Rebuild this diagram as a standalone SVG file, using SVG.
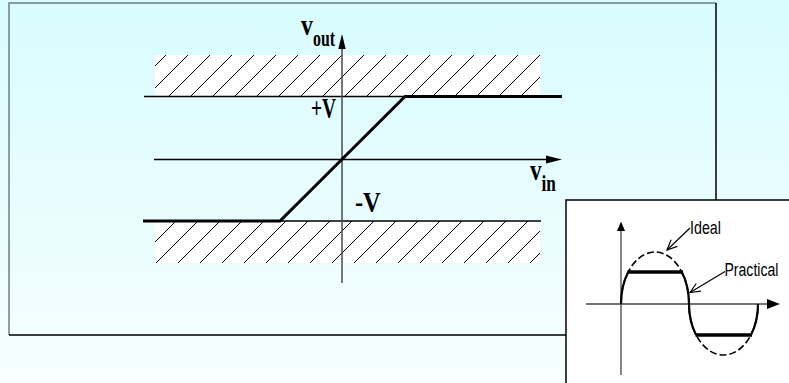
<svg xmlns="http://www.w3.org/2000/svg" width="789" height="383" viewBox="0 0 789 383">
  <defs>
    <linearGradient id="bg" x1="0" y1="0" x2="0" y2="1">
      <stop offset="0" stop-color="#d8fcff"/>
      <stop offset="1" stop-color="#f7feff"/>
    </linearGradient>
    <pattern id="hatch" patternUnits="userSpaceOnUse" x="1" y="0" width="22" height="22">
      <rect width="22" height="22" fill="#ffffff"/>
      <path d="M0,22 L22,0 M-2,2 L2,-2 M20,24 L24,20" stroke="#000" stroke-width="1"/>
    </pattern>
    <marker id="open" viewBox="-11 -6 13 12" refX="0" refY="0" markerWidth="13" markerHeight="12" orient="auto" markerUnits="userSpaceOnUse">
      <path d="M-10,-4.5 L0,0 L-10,4.5" fill="none" stroke="#000" stroke-width="1.2"/>
    </marker>
    <style>
      .axis { stroke: #4a4a4a; stroke-width: 1.5; fill: none; }
      .thin { stroke: #000; stroke-width: 1.3; fill: none; }
      .thick { stroke: #000; stroke-width: 3; fill: none; stroke-linejoin: miter; }
      .head { fill: #000; stroke: none; }
      .ser { font-family: "Liberation Serif", "Times New Roman", serif; font-weight: bold; fill: #000; }
      .sans { font-family: "Liberation Sans", Arial, sans-serif; font-size: 19px; fill: #000; }
    </style>
  </defs>

  <rect x="0" y="0" width="789" height="383" fill="url(#bg)"/>

  <!-- main frame -->
  <g id="main-frame">
    <path d="M9,335 L9,3 L716,3" fill="none" stroke="#6f7f80" stroke-width="1.5"/>
    <path d="M716,3 L716,335 L9,335" fill="none" stroke="#000" stroke-width="1.5"/>
  </g>

  <!-- hatched saturation regions -->
  <g id="upper-hatch">
    <rect x="155" y="55" width="385" height="41" fill="url(#hatch)"/>
  </g>
  <g id="lower-hatch">
    <rect x="155" y="221" width="385" height="42" fill="url(#hatch)"/>
  </g>

  <!-- axes and lines -->
  <g id="connectors">
    <line class="thin" x1="144" y1="96.5" x2="405" y2="96.5"/>
    <line class="thin" x1="280" y1="221" x2="541" y2="221"/>
    <line class="thin" x1="154" y1="159.5" x2="548" y2="159.5"/>
    <path class="head" d="M562,159.5 L546,155.5 L546,163.5 Z"/>
    <line class="axis" x1="342" y1="48" x2="342" y2="283"/>
    <path class="head" d="M342,34 L338.3,49 L345.7,49 Z"/>
    <path class="thick" d="M143,221 L280,221 L405,96.5 L562,96.5"/>
  </g>

  <!-- labels -->
  <g id="labels">
    <text class="ser" font-size="29" transform="translate(301,35) scale(0.82,1)">v</text>
    <text class="ser" font-size="23" transform="translate(313,45.5) scale(0.69,1)">out</text>
    <text class="ser" font-size="29" transform="translate(311,118) scale(0.67,1)">+V</text>
    <text class="ser" font-size="29" transform="translate(355,211.5) scale(0.84,1)">-V</text>
    <text class="ser" font-size="29" transform="translate(530,180) scale(0.8,1)">v</text>
    <text class="ser" font-size="23" transform="translate(541.5,190.5) scale(0.75,1)">in</text>
  </g>

  <!-- inset -->
  <g id="inset">
    <rect x="566" y="200" width="240" height="200" fill="#ffffff" stroke="#000" stroke-width="1.5"/>
    <line x1="621" y1="230" x2="621" y2="375" stroke="#444" stroke-width="1.3"/>
    <path class="head" d="M621,221.5 L617,231 L625,231 Z"/>
    <line x1="586" y1="304" x2="768" y2="304" stroke="#444" stroke-width="1.3"/>
    <path class="head" d="M780,304 L767,299 L767,309 Z"/>
    <!-- ideal curve -->
    <path d="M621,304 A34,52 0 0 1 689,304 A34.5,51 0 0 0 758,304" fill="none" stroke="#000" stroke-width="1.6" stroke-dasharray="7 3"/>
    <!-- practical curve -->
    <path d="M621,304 A34,52 0 0 1 628.2,272" fill="none" stroke="#000" stroke-width="2.2"/>
    <path d="M681.8,272 A34,52 0 0 1 689,304 A34.5,51 0 0 0 696.1,335" fill="none" stroke="#000" stroke-width="2.2"/>
    <path d="M750.9,335 A34.5,51 0 0 0 758,304" fill="none" stroke="#000" stroke-width="2.2"/>
    <line x1="627.5" y1="272" x2="683" y2="272" stroke="#000" stroke-width="3.5"/>
    <line x1="695.5" y1="335" x2="752" y2="335" stroke="#000" stroke-width="3.5"/>
    <!-- callouts -->
    <line x1="690" y1="228" x2="667" y2="250" stroke="#000" stroke-width="1.2" marker-end="url(#open)"/>
    <line x1="725" y1="271.5" x2="690" y2="292.5" stroke="#000" stroke-width="1.2" marker-end="url(#open)"/>
    <text class="sans" transform="translate(690,233.5) scale(0.75,1)">Ideal</text>
    <text class="sans" transform="translate(724.5,276) scale(0.74,1)">Practical</text>
  </g>
</svg>
